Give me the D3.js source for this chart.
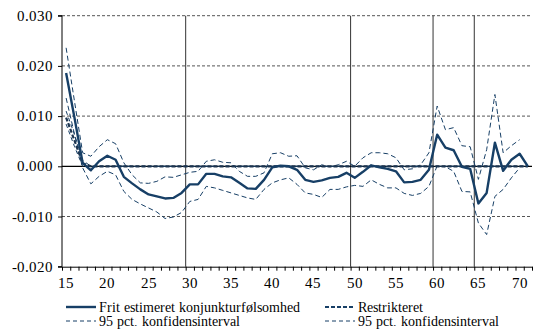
<!DOCTYPE html>
<html><head><meta charset="utf-8">
<script src="https://cdn.jsdelivr.net/npm/d3@7/dist/d3.min.js"></script>
<style>
@font-face{font-family:"ChartSerif";src:local("Liberation Serif"),local("LiberationSerif"),local("LiberationSerif-Regular"),local("Times New Roman"),local("Tinos");}
body{margin:0;background:#fff}
svg text{font-family:"ChartSerif","Liberation Serif","Times New Roman",Tinos,serif}
</style>
</head><body><svg id="c" width="540" height="333"></svg>
<script>
const ages = d3.range(15, 72);
const free = [0.0186,0.0098,0.0007,-0.0008,0.0010,0.0021,0.0013,-0.0021,-0.0034,-0.0046,-0.0056,-0.0060,-0.0064,-0.0063,-0.0053,-0.0036,-0.0036,-0.0015,-0.0015,-0.0020,-0.0022,-0.0033,-0.0044,-0.0045,-0.0027,-0.0002,0.0001,0.0000,-0.0007,-0.0027,-0.0031,-0.0028,-0.0023,-0.0021,-0.0013,-0.0023,-0.0011,0.0002,-0.0002,-0.0005,-0.0010,-0.0032,-0.0031,-0.0027,-0.0007,0.0063,0.0037,0.0032,-0.0001,-0.0005,-0.0074,-0.0053,0.0047,-0.0009,0.0013,0.0025,0.0000];
const freeUpper = [0.0236,0.0131,0.0027,0.0020,0.0039,0.0053,0.0045,0.0007,-0.0017,-0.0033,-0.0034,-0.0030,-0.0021,-0.0022,-0.0017,-0.0012,-0.0010,0.0010,0.0013,0.0008,0.0007,-0.0010,-0.0020,-0.0020,-0.0013,0.0025,0.0027,0.0020,0.0021,-0.0003,-0.0007,0.0003,-0.0001,0.0003,0.0010,0.0000,0.0017,0.0027,0.0027,0.0025,0.0017,-0.0007,-0.0005,0.0003,0.0027,0.0120,0.0073,0.0077,0.0041,0.0039,-0.0026,0.0033,0.0143,0.0027,0.0041,0.0053,null];
const freeLower = [0.0136,0.0065,-0.0003,-0.0035,-0.0020,-0.0010,-0.0017,-0.0050,-0.0066,-0.0075,-0.0083,-0.0091,-0.0104,-0.0101,-0.0092,-0.0070,-0.0066,-0.0040,-0.0043,-0.0048,-0.0053,-0.0058,-0.0063,-0.0066,-0.0046,-0.0033,-0.0027,-0.0023,-0.0036,-0.0053,-0.0056,-0.0062,-0.0046,-0.0046,-0.0041,-0.0038,-0.0040,-0.0027,-0.0036,-0.0043,-0.0043,-0.0054,-0.0058,-0.0054,-0.0040,0.0001,-0.0001,-0.0010,-0.0050,-0.0051,-0.0113,-0.0136,-0.0060,-0.0046,-0.0023,-0.0003,null];
const restricted = ages.map(a => a === 15 ? 0.0097 : a === 16 ? 0.0052 : a === 17 ? 0.0006 : 0);
const restrUpper = ages.map(a => a === 15 ? 0.0110 : a === 16 ? 0.0064 : a === 17 ? 0.0012 : 0);
const restrLower = ages.map(a => a === 15 ? 0.0084 : a === 16 ? 0.0040 : a === 17 ? 0.0000 : 0);
const yTicks = [-0.02, -0.01, 0, 0.01, 0.02, 0.03];
const xLabels = [15,20,25,30,35,40,45,50,55,60,65,70];
const vLines = [30, 50, 60, 65];
const legendItems = [
  {label:"Frit estimeret konjunkturfølsomhed", type:"free"},
  {label:"Restrikteret", type:"restr"},
  {label:"95 pct. konfidensinterval", type:"ci"},
  {label:"95 pct. konfidensinterval", type:"ci"}
];

const svg = d3.select("#c");
const L = 62, R = 532, T = 15.7, B = 266.7;
const x = d3.scaleBand().domain(ages).range([L, R]).padding(0);
const xb = d3.scaleLinear().domain([14.5, 71.5]).range([L, R]);
const y = d3.scaleLinear().domain([-0.02, 0.03]).range([B, T]);
const loc = d3.formatLocale({decimal:".", thousands:",", grouping:[3], currency:["",""], minus:"-"});
const fmt = loc.format(".3f");
const navy = "#173f66";

// gridlines
svg.append("g").selectAll("line").data(yTicks.filter(v => v !== 0 && v !== -0.02)).join("line")
  .attr("x1", L).attr("x2", R).attr("y1", d => y(d)).attr("y2", d => y(d))
  .attr("stroke", "#555").attr("stroke-width", 1).attr("stroke-dasharray", "3,2");

// vertical lines
svg.append("g").selectAll("line").data(vLines).join("line")
  .attr("x1", d => x(d)).attr("x2", d => x(d)).attr("y1", T).attr("y2", B)
  .attr("stroke", "#333").attr("stroke-width", 1);

// zero line
svg.append("line").attr("x1", L).attr("x2", R).attr("y1", y(0)).attr("y2", y(0))
  .attr("stroke", "#000").attr("stroke-width", 1.3);

// y axis (lines)
const ya = svg.append("g").attr("transform", `translate(${L},0)`)
  .call(d3.axisLeft(y).tickValues(yTicks).tickFormat("").tickSize(4));
ya.select(".domain").attr("stroke", "#000").attr("d", `M-4,${B}H0V${T}H-4`);
ya.selectAll(".tick line").attr("stroke", "#000");

// x axis ticks (lines)
const xa = svg.append("g").attr("transform", `translate(0,${B})`)
  .call(d3.axisBottom(xb).tickValues(d3.range(14.5, 72, 1)).tickFormat("").tickSize(4).tickSizeOuter(0));
xa.select(".domain").attr("stroke", "#000");
xa.selectAll(".tick line").attr("stroke", "#000");

// tick labels
yTicks.forEach(v => {
  svg.append("text").attr("x", L - 9).attr("y", y(v) + 5).attr("font-size", 14.5)
    .attr("text-anchor", "end").attr("fill", "#000").text(fmt(v));
});
xLabels.forEach(a => {
  svg.append("text").attr("x", xb(a)).attr("y", B + 21).attr("font-size", 14.5)
    .attr("text-anchor", "middle").attr("fill", "#000").text(String(a));
});

const cx = a => x(a) + x.bandwidth() / 2;
const mk = arr => d3.line().defined((d, i) => arr[i] !== null).x((d, i) => cx(ages[i])).y((d, i) => y(arr[i]));

function draw(arr, w, dash, col) {
  svg.append("path").datum(arr).attr("d", mk(arr)(arr)).attr("fill", "none")
    .attr("stroke", col).attr("stroke-width", w).attr("stroke-dasharray", dash)
    .attr("stroke-linejoin", "round");
}
draw(restrUpper, 1, "4,3", navy);
draw(restrLower, 1, "4,3", navy);
draw(freeUpper, 1, "5,3", navy);
draw(freeLower, 1, "5,3", navy);
draw(restricted, 2.2, "4,2", "#1d3550");
draw(free, 2.4, null, navy);

// legend
const pos = [[66, 307], [325, 307], [66, 321], [325, 321]];
legendItems.forEach((it, i) => {
  const [px, py] = pos[i];
  const w = it.type === "free" ? 2.4 : it.type === "restr" ? 2.2 : 1;
  const dash = it.type === "free" ? null : it.type === "restr" ? "4,2" : "4,3";
  svg.append("line").attr("x1", px).attr("x2", px + 30).attr("y1", py).attr("y2", py)
    .attr("stroke", navy).attr("stroke-width", w).attr("stroke-dasharray", dash);
  svg.append("text").attr("x", px + 33).attr("y", py + 5).attr("font-size", 14)
    .attr("fill", "#000").text(it.label);
});
</script></body></html>
